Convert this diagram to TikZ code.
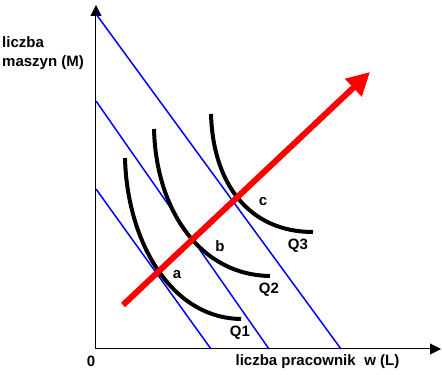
\documentclass[tikz,border=0pt]{standalone}
\usepackage{fontspec}
\setmainfont{Liberation Sans}
\usetikzlibrary{arrows.meta}

\tikzset{
    axis/.style={line width=1pt, -{Triangle[length=11pt, width=11pt]}},
    budget/.style={blue, line width=1.5pt},
    isoquant/.style={line width=4pt},
    expansion/.style={red, line width=6pt, -{Triangle[length=23pt, width=23pt]}},
    tag/.style={font=\fontsize{15}{19.5}\selectfont\bfseries, inner sep=0pt},
}

\begin{document}
\begin{tikzpicture}[x=1pt, y=1pt]
    \useasboundingbox (-96, -26) rectangle (346, 349);

    \coordinate (O) at (0, 0);
    \coordinate (Xend) at (345, 0);
    \coordinate (Yend) at (0, 344);
    \draw[axis] (O) -- (Xend);
    \draw[axis] (O) -- (Yend);

    \node[tag, anchor=west, align=left] (ylab) at (-94, 296) {liczba\\maszyn (M)};
    \node[tag] (xlab) at (221.5, -13) {liczba pracownik\hspace{4.5pt} w (L)};
    \node[tag] (zero) at (-5, -12) {0};

    % isokoszty
    \coordinate (M1) at (0, 160);
    \coordinate (L1) at (115, 0);
    \coordinate (M2) at (0, 248);
    \coordinate (L2) at (173, 0);
    \coordinate (M3) at (0, 335);
    \coordinate (L3) at (245, 0);
    \draw[budget] (M1) -- (L1);
    \draw[budget] (M2) -- (L2);
    \draw[budget] (M3) -- (L3);

    % izokwanty
    \draw[isoquant] (29, 191) .. controls (31, 109) and (74, 31) .. (145, 30);
    \draw[isoquant] (58, 220) .. controls (60, 139) and (104, 74) .. (174, 73);
    \draw[isoquant] (115, 235) .. controls (117, 164) and (154, 117) .. (217, 117);
    \node[tag] (Q1) at (144, 16) {Q1};
    \node[tag] (Q2) at (173, 59) {Q2};
    \node[tag] (Q3) at (202, 103) {Q3};

    % sciezka ekspansji
    \coordinate (Pstart) at (27, 44);
    \coordinate (Pend) at (274, 277);
    \draw[expansion] (Pstart) -- (Pend);

    \node[tag] (a) at (81, 74) {a};
    \node[tag] (b) at (124, 103) {b};
    \node[tag] (c) at (167, 147) {c};
\end{tikzpicture}
\end{document}
